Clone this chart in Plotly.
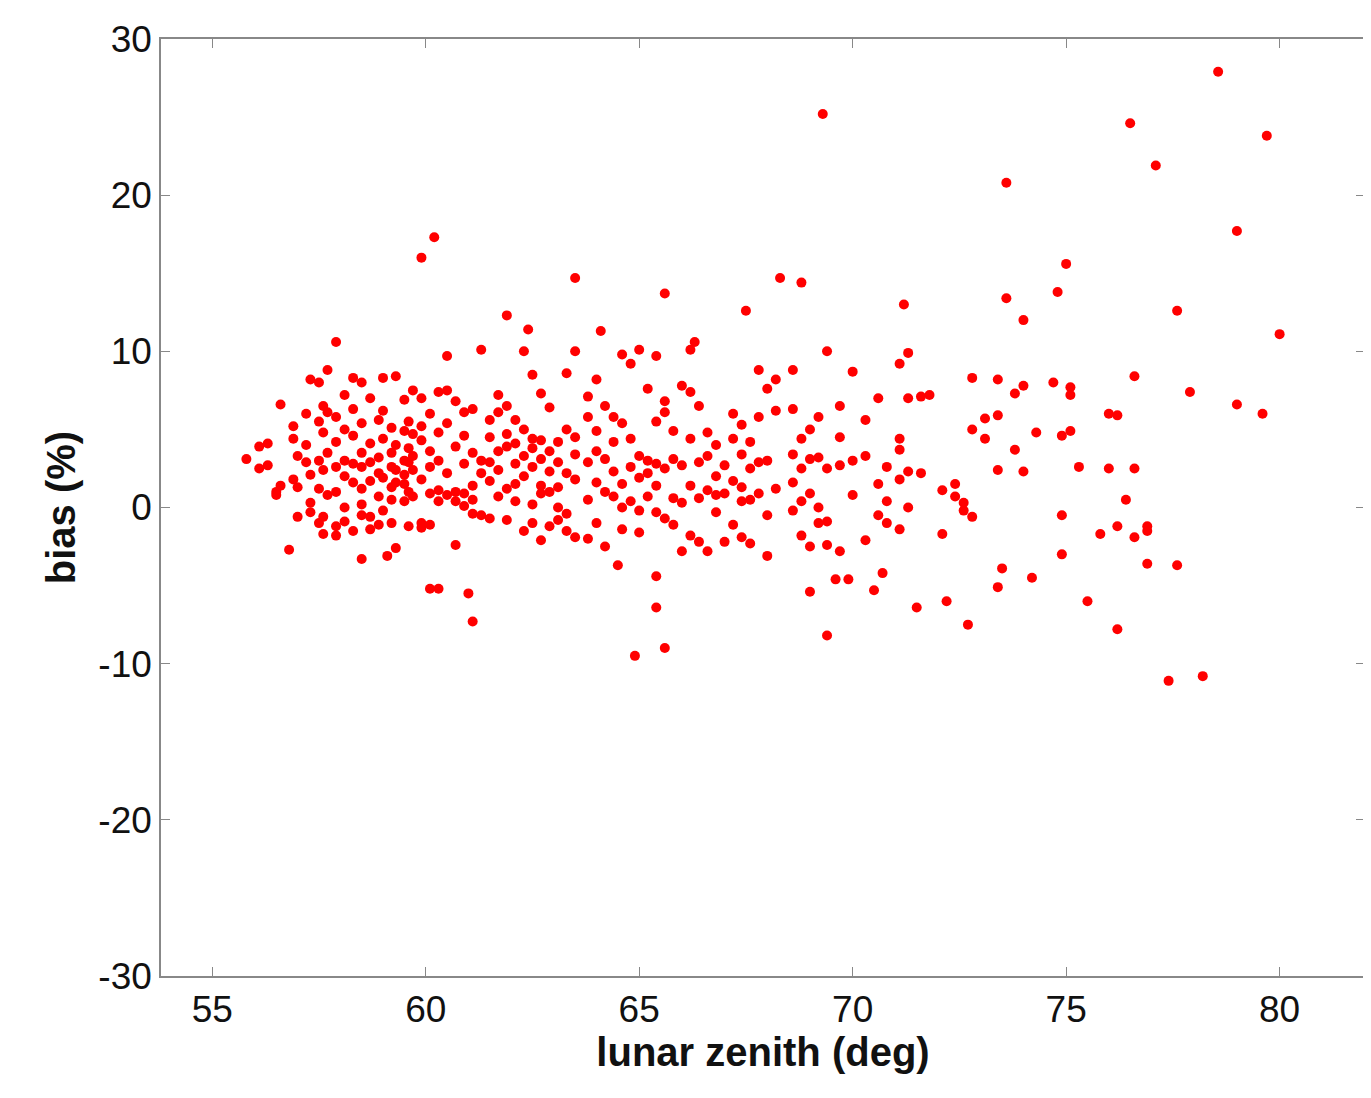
import plotly.graph_objects as go

# outliers
x_out = [78.56, 69.3, 76.5, 79.7, 77.1, 73.6, 79.0, 60.2, 59.9, 75.0, 63.5, 68.3, 68.8, 65.6, 74.8, 73.6,
         71.2, 67.5, 77.6, 61.9, 74.0, 80.0, 62.4, 64.1, 66.3, 57.9,
         77.4, 78.2, 64.9, 65.6, 69.4, 76.2, 72.7, 61.1, 65.4, 71.5, 72.2, 75.5, 61.0, 69.0, 60.1, 60.3,
         70.5, 73.4, 74.2, 65.4, 69.6, 69.9, 70.7, 77.6, 76.9, 73.5, 58.5, 59.1, 64.5, 74.9, 56.8]
y_out = [27.9, 25.2, 24.6, 23.8, 21.9, 20.8, 17.7, 17.3, 16.0, 15.6, 14.7, 14.7, 14.4, 13.7, 13.8, 13.4,
         13.0, 12.6, 12.6, 12.3, 12.0, 11.1, 11.4, 11.3, 10.6, 10.6,
         -11.1, -10.8, -9.5, -9.0, -8.2, -7.8, -7.5, -7.3, -6.4, -6.4, -6.0, -6.0, -5.5, -5.4, -5.2, -5.2,
         -5.3, -5.1, -4.5, -4.4, -4.6, -4.6, -4.2, -3.7, -3.6, -3.9, -3.3, -3.1, -3.7, -3.0, -2.7]

# dense cluster: zenith column -> bias values
cluster = {
    55.8: [3.1], 56.1: [2.5, 3.9], 56.3: [4.1, 2.7], 56.5: [1.0, 0.8], 56.6: [6.6, 1.4],
    56.9: [5.2, 4.4, 1.8], 57.0: [-0.6, 1.3, 3.3], 57.2: [2.9, 4.0, 6.0], 57.3: [8.2, 0.3, -0.3, 2.1],
    57.5: [8.0, 5.5, 3.0, 1.2, -1.0], 57.6: [6.5, 4.8, 2.4, -1.7, -0.6], 57.7: [8.8, 6.1, 3.5, 0.8],
    57.9: [5.8, 2.6, -1.2, -1.8, 1.0, 4.2], 58.1: [7.2, 5.0, 3.0, 0.0, -0.9, 2.0],
    58.3: [8.3, 6.3, 4.6, 1.6, -1.5, 2.8], 58.5: [8.0, 5.4, 3.5, 0.2, 1.2, -0.5, 2.6],
    58.7: [7.0, 4.1, 1.7, -1.4, -0.6, 2.9], 58.9: [5.6, 3.2, 0.7, 2.2, -1.1],
    59.0: [8.3, 6.2, 4.4, 1.9, -0.2], 59.2: [5.1, 3.5, 2.6, 1.3, -1.0, 0.5],
    59.3: [8.4, 4.0, 2.4, 1.6, -2.6], 59.5: [6.9, 4.9, 3.0, 2.1, 1.5, 0.4],
    59.6: [5.5, 3.8, 2.9, 1.0, -1.2], 59.7: [7.5, 4.7, 3.3, 2.4, 0.7],
    59.9: [7.0, 5.2, 4.3, 1.8, -1.3, -1.0], 60.1: [6.0, 3.6, 2.6, 0.9, -1.1],
    60.3: [7.4, 4.8, 3.0, 1.1, 0.4], 60.5: [9.7, 7.5, 5.4, 2.2, 0.8], 60.7: [6.8, 3.9, 1.0, 0.4, -2.4],
    60.9: [6.1, 4.6, 2.8, 0.9, 0.1], 61.1: [6.3, 3.5, 1.4, 0.5, -0.4], 61.3: [10.1, 3.0, 2.2, -0.5],
    61.5: [5.6, 4.5, 2.9, 1.7, -0.7], 61.7: [7.2, 6.1, 3.6, 2.4, 0.7], 61.9: [6.5, 4.7, 3.9, 1.2, -0.8],
    62.1: [5.6, 4.1, 2.8, 1.5, 0.4], 62.3: [10.0, 5.0, 3.3, 2.0, -1.5],
    62.5: [8.5, 4.4, 3.8, 2.6, 0.2, -1.0], 62.7: [7.3, 4.3, 3.1, 1.4, 0.9, -2.1],
    62.9: [6.4, 3.6, 2.3, 1.0, -1.2], 63.1: [4.2, 2.9, 1.3, 0.0, -0.8], 63.3: [8.6, 5.0, 2.2, -0.4, -1.5],
    63.5: [10.0, 4.5, 3.4, 1.8, -1.9], 63.8: [7.1, 5.8, 2.9, 0.5, -2.0], 64.0: [8.2, 4.9, 3.6, 1.6, -1.0],
    64.2: [6.5, 3.1, 1.0, -2.5], 64.4: [5.8, 4.2, 2.3, 0.7], 64.6: [9.8, 5.4, 1.5, 0.0, -1.4],
    64.8: [9.2, 4.4, 2.6, 0.4], 65.0: [10.1, 3.3, 1.9, -0.2, -1.6], 65.2: [7.6, 3.0, 2.2, 0.7],
    65.4: [9.7, 5.5, 2.8, 1.4, -0.3], 65.6: [6.8, 6.1, 2.5, -0.7], 65.8: [4.9, 3.1, 0.6, -1.1],
    66.0: [7.8, 2.7, 0.3, -2.8], 66.2: [10.1, 7.4, 4.4, 1.4, -1.8], 66.4: [6.5, 2.9, 0.6, -2.2],
    66.6: [4.8, 3.3, 1.1, -2.8], 66.8: [4.0, 2.0, 0.8, -0.3], 67.0: [2.7, 0.9, -2.2],
    67.2: [6.0, 4.4, 1.7, -1.1], 67.4: [5.3, 3.4, 1.3, 0.4, -1.9], 67.6: [4.2, 2.5, 0.5, -2.3],
    67.8: [8.8, 5.8, 2.9, 0.9], 68.0: [7.6, 3.0, -0.5, -3.1], 68.2: [8.2, 6.2, 1.2],
    68.6: [8.8, 6.3, 3.4, 1.6, -0.2], 68.8: [4.4, 2.5, 0.4, -1.8], 69.0: [5.0, 3.1, 0.9, -2.5],
    69.2: [5.8, 3.2, 0.0, -1.0], 69.4: [10.0, 2.5, -0.9, -2.4], 69.7: [6.5, 4.5, 2.7, -2.8],
    70.0: [8.7, 3.0, 0.8], 70.3: [5.6, 3.3, -2.1], 70.6: [7.0, 1.5, -0.5], 70.8: [2.6, 0.4, -1.0],
    71.1: [9.2, 4.4, 3.7, 1.8, -1.4], 71.3: [9.9, 7.0, 2.3, 0.0], 71.6: [7.1, 2.2], 71.8: [7.2],
    72.1: [1.1, -1.7], 72.4: [1.5, 0.7], 72.6: [0.3, -0.2], 72.8: [8.3, 5.0, -0.6], 73.1: [5.7, 4.4],
    73.4: [8.2, 2.4, 5.9], 73.8: [7.3, 3.7], 74.0: [7.8, 2.3], 74.3: [4.8], 74.7: [8.0],
    74.9: [4.6, -0.5], 75.1: [7.2, 7.7, 4.9], 75.3: [2.6], 75.8: [-1.7], 76.0: [2.5, 6.0],
    76.2: [5.9, -1.2], 76.4: [0.5], 76.6: [8.4, 2.5, -1.9], 76.9: [-1.2, -1.5],
    77.9: [7.4], 79.0: [6.6], 79.6: [6.0],
}

x_ticks = [55, 60, 65, 70, 75, 80]
y_ticks = [-30, -20, -10, 0, 10, 20, 30]

zenith = list(x_out)
bias = list(y_out)
for zx, ys in cluster.items():
    zenith += [zx] * len(ys)
    bias += ys

fig = go.Figure(go.Scatter(
    x=zenith, y=bias, mode="markers",
    marker=dict(color="#ff0000", size=10),
))

axis_common = dict(
    showgrid=False, zeroline=False, showline=True, linecolor="#888888", linewidth=1.5,
    mirror="ticks", ticks="inside", ticklen=9, tickcolor="#888888",
    tickfont=dict(family="Arial", size=37, color="#111111"),
)
title_font = dict(family="Arial", size=40, color="#111111")
fig.update_xaxes(range=[53.8, 82], tickvals=x_ticks, ticktext=[str(v) for v in x_ticks],
                 title=dict(text="<b>lunar zenith (deg)</b>", font=title_font, standoff=6),
                 **axis_common)
fig.update_yaxes(range=[-30, 30], tickvals=y_ticks, ticktext=[str(v) for v in y_ticks],
                 title=dict(text="<b>bias (%)</b>", font=title_font, standoff=10),
                 **axis_common)
fig.update_layout(
    width=1371, height=1098, showlegend=False,
    plot_bgcolor="white", paper_bgcolor="white",
    margin=dict(l=153, r=14, t=31, b=130),
)

fig.write_html("out.html")
